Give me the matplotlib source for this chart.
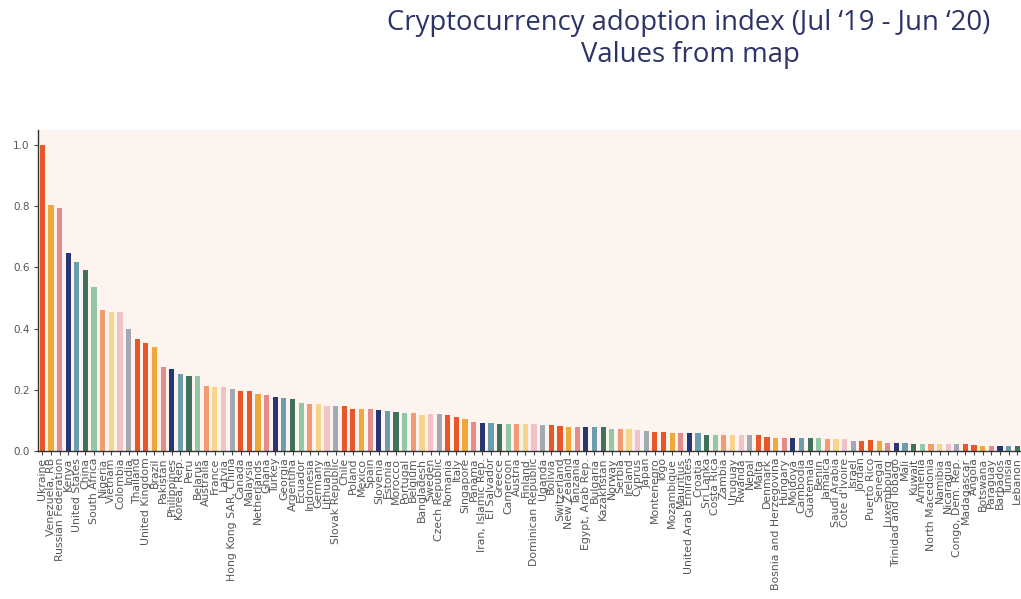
import matplotlib
matplotlib.use("Agg")
import matplotlib.pyplot as plt

countries = [
    "Ukraine", "Venezuela, RB", "Russian Federation", "Kenya", "United States", "China",
    "South Africa", "Nigeria", "Vietnam", "Colombia", "India", "Thailand", "United Kingdom",
    "Brazil", "Pakistan", "Philippines", "Korea, Rep.", "Peru", "Belarus", "Australia",
    "France", "Latvia", "Hong Kong SAR, China", "Canada", "Malaysia", "Netherlands", "Ghana",
    "Turkey", "Georgia", "Argentina", "Ecuador", "Indonesia", "Germany", "Lithuania",
    "Slovak Republic", "Chile", "Poland", "Mexico", "Spain", "Slovenia", "Estonia", "Morocco",
    "Portugal", "Belgium", "Bangladesh", "Sweden", "Czech Republic", "Romania", "Italy",
    "Singapore", "Panama", "Iran, Islamic Rep.", "El Salvador", "Greece", "Cameroon",
    "Austria", "Finland", "Dominican Republic", "Uganda", "Bolivia", "Switzerland",
    "New Zealand", "Tanzania", "Egypt, Arab Rep.", "Bulgaria", "Kazakhstan", "Norway",
    "Serbia", "Ireland", "Cyprus", "Japan", "Montenegro", "Togo", "Mozambique", "Mauritius",
    "United Arab Emirates", "Croatia", "Sri Lanka", "Costa Rica", "Zambia", "Uruguay",
    "Rwanda", "Nepal", "Malta", "Denmark", "Bosnia and Herzegovina", "Hungary", "Moldova",
    "Cambodia", "Guatemala", "Benin", "Jamaica", "Saudi Arabia", "Cote d'Ivoire", "Israel",
    "Jordan", "Puerto Rico", "Senegal", "Luxembourg", "Trinidad and Tobago", "Mali", "Kuwait",
    "Armenia", "North Macedonia", "Namibia", "Nicaragua", "Congo, Dem. Rep.", "Madagascar",
    "Angola", "Botswana", "Paraguay", "Barbados", "Tunisia", "Lebanon",
]

values = [
    1.000, 0.803, 0.795, 0.646, 0.617, 0.591, 0.537, 0.462, 0.453, 0.453, 0.397, 0.366, 0.354,
    0.339, 0.274, 0.266, 0.250, 0.243, 0.243, 0.213, 0.208, 0.207, 0.201, 0.195, 0.195, 0.185,
    0.184, 0.177, 0.172, 0.169, 0.157, 0.154, 0.153, 0.145, 0.146, 0.147, 0.138, 0.138, 0.138,
    0.134, 0.131, 0.126, 0.125, 0.125, 0.118, 0.119, 0.119, 0.116, 0.111, 0.103, 0.095, 0.092,
    0.092, 0.087, 0.087, 0.087, 0.087, 0.087, 0.084, 0.084, 0.081, 0.076, 0.076, 0.076, 0.076,
    0.076, 0.072, 0.072, 0.072, 0.068, 0.065, 0.061, 0.061, 0.059, 0.057, 0.057, 0.057, 0.052,
    0.052, 0.052, 0.050, 0.050, 0.050, 0.050, 0.046, 0.041, 0.041, 0.041, 0.041, 0.041, 0.041,
    0.037, 0.037, 0.037, 0.033, 0.033, 0.034, 0.031, 0.025, 0.025, 0.025, 0.021, 0.021, 0.021,
    0.021, 0.021, 0.021, 0.021, 0.019, 0.016, 0.016, 0.016, 0.016, 0.014,
]

palette = ["#E8572A", "#EFA93A", "#E48C8C", "#273570", "#6A9DAE", "#41705F",
           "#93C7A8", "#F29B72", "#F8D38A", "#F2C3C6", "#A4A8B0", "#E8572A"]

title_line1 = "Cryptocurrency adoption index (Jul \u201819 - Jun \u201820)"
title_line2 = "Values from map"
yticks = [0.0, 0.2, 0.4, 0.6, 0.8, 1.0]

W, H = 1021, 599
fig = plt.figure(figsize=(W / 100, H / 100), dpi=100)
fig.patch.set_facecolor("white")

left = 38 / W
bottom = 1 - 450.7 / H
top = 1 - 130 / H
ax = fig.add_axes([left, bottom, 1.0 - left, top - bottom])
ax.set_facecolor("#FDF4EF")

x = list(range(len(countries)))
colors = [palette[i % len(palette)] for i in x]
ax.bar(x, values, width=0.6, color=colors, zorder=2)

ax.set_xlim(-0.5, 113.44)
ax.set_ylim(0, 1.05)
ax.set_xticks(x)
ax.set_xticklabels(countries, rotation=90, fontsize=7.8, color="#555555")
ax.set_yticks(yticks)
ax.set_yticklabels([f"{v:.1f}" for v in yticks], fontsize=7.5, color="#555555")
ax.tick_params(axis="x", length=3, width=0.8, color="#444444", pad=2)
ax.tick_params(axis="y", length=3, width=0.8, color="#444444", pad=3)

for s in ["top", "right"]:
    ax.spines[s].set_visible(False)
for s in ["left", "bottom"]:
    ax.spines[s].set_color("#333333")
    ax.spines[s].set_linewidth(1.0)

title_color = "#2B3467"
fig.text(689 / W, 1 - 23 / H, title_line1, ha="center", va="center",
         fontsize=19.8, color=title_color, family="Open Sans")
fig.text(690 / W, 1 - 55 / H, title_line2, ha="center", va="center",
         fontsize=19.8, color=title_color, family="Open Sans")

fig.savefig("out.png", dpi=100, facecolor="white")
